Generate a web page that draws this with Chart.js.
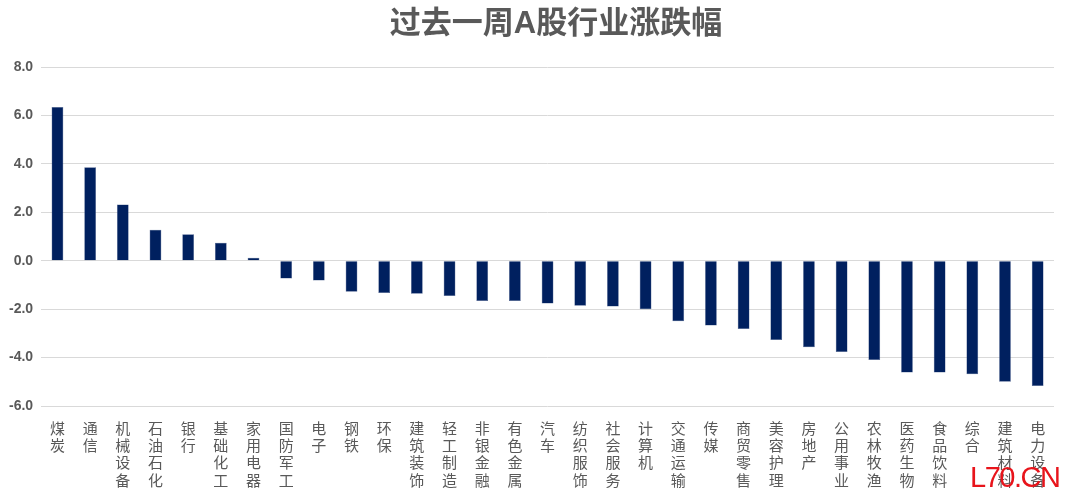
<!DOCTYPE html>
<html>
<head>
<meta charset="utf-8">
<script src="https://cdn.jsdelivr.net/npm/chart.js@4.4.0/dist/chart.umd.min.js"></script>
<style>
  html, body { margin: 0; padding: 0; background: #fff; }
  #wrap { position: relative; width: 1080px; height: 499px; }
  #mark {
    position: absolute; left: 970px; top: 463px; line-height: 1;
    font-family: "Liberation Sans", Arial, sans-serif;
    font-size: 29px; color: #e8141b; letter-spacing: -1.5px;
  }
</style>
</head>
<body>
<div id="wrap">
  <canvas id="chart" width="1080" height="499"></canvas>
  <div id="mark">L70.CN</div>
</div>
<script>
// --- Dane ---
const industries = ['煤炭', '通信', '机械设备', '石油石化', '银行', '基础化工', '家用电器', '国防军工',
  '电子', '钢铁', '环保', '建筑装饰', '轻工制造', '非银金融', '有色金属', '汽车', '纺织服饰',
  '社会服务', '计算机', '交通运输', '传媒', '商贸零售', '美容护理', '房地产', '公用事业',
  '农林牧渔', '医药生物', '食品饮料', '综合', '建筑材料', '电力设备'];
const weeklyChange = [6.35, 3.86, 2.32, 1.28, 1.09, 0.74, 0.12, -0.73,
  -0.82, -1.28, -1.33, -1.36, -1.46, -1.66, -1.66, -1.77, -1.86,
  -1.89, -2.0, -2.5, -2.68, -2.82, -3.27, -3.57, -3.77,
  -4.1, -4.62, -4.62, -4.69, -5.0, -5.17];
const yMin = -6;
const yMax = 8;
const yStep = 2;
const chartTitle = '过去一周A股行业涨跌幅';

const FONT = '"Liberation Sans", Arial, "Noto Sans CJK SC", sans-serif';
const GREY = '#595959';

// etykiety pionowe - znak pod znakiem
const verticalLabels = industries.map(name => name.split(''));

// tytuł rysowany ręcznie, bo w oryginale jest lekko przesunięty w prawo
const titlePlugin = {
  id: 'shiftedTitle',
  afterDraw(chart) {
    const ctx = chart.ctx;
    ctx.save();
    ctx.fillStyle = GREY;
    ctx.font = 'bold 31px ' + FONT;
    ctx.textAlign = 'center';
    ctx.textBaseline = 'middle';
    ctx.fillText(chartTitle, 556, 24);
    ctx.restore();
  }
};

new Chart(document.getElementById('chart'), {
  type: 'bar',
  data: {
    labels: verticalLabels,
    datasets: [{
      data: weeklyChange,
      backgroundColor: '#00205f',
      borderColor: '#4a5f8c',
      borderWidth: 0.5,
      barPercentage: 0.72,
      categoryPercentage: 0.5
    }]
  },
  options: {
    responsive: false,
    animation: false,
    layout: { padding: { left: 1, right: 26, top: 67, bottom: 2 } },
    plugins: {
      legend: { display: false },
      tooltip: { enabled: false },
      title: { display: false }
    },
    scales: {
      x: {
        grid: { display: false },
        border: { display: false },
        ticks: {
          autoSkip: false,
          maxRotation: 0,
          minRotation: 0,
          padding: 7,
          color: GREY,
          font: { family: FONT, size: 15, lineHeight: 1.15 }
        }
      },
      y: {
        min: yMin,
        max: yMax,
        grid: { color: '#d9d9d9', lineWidth: 1, drawTicks: false },
        border: { display: false },
        ticks: {
          stepSize: yStep,
          padding: 8,
          color: GREY,
          font: { family: FONT, size: 14, weight: 'bold' },
          callback: v => v.toFixed(1)
        }
      }
    }
  },
  plugins: [titlePlugin]
});
</script>
</body>
</html>
